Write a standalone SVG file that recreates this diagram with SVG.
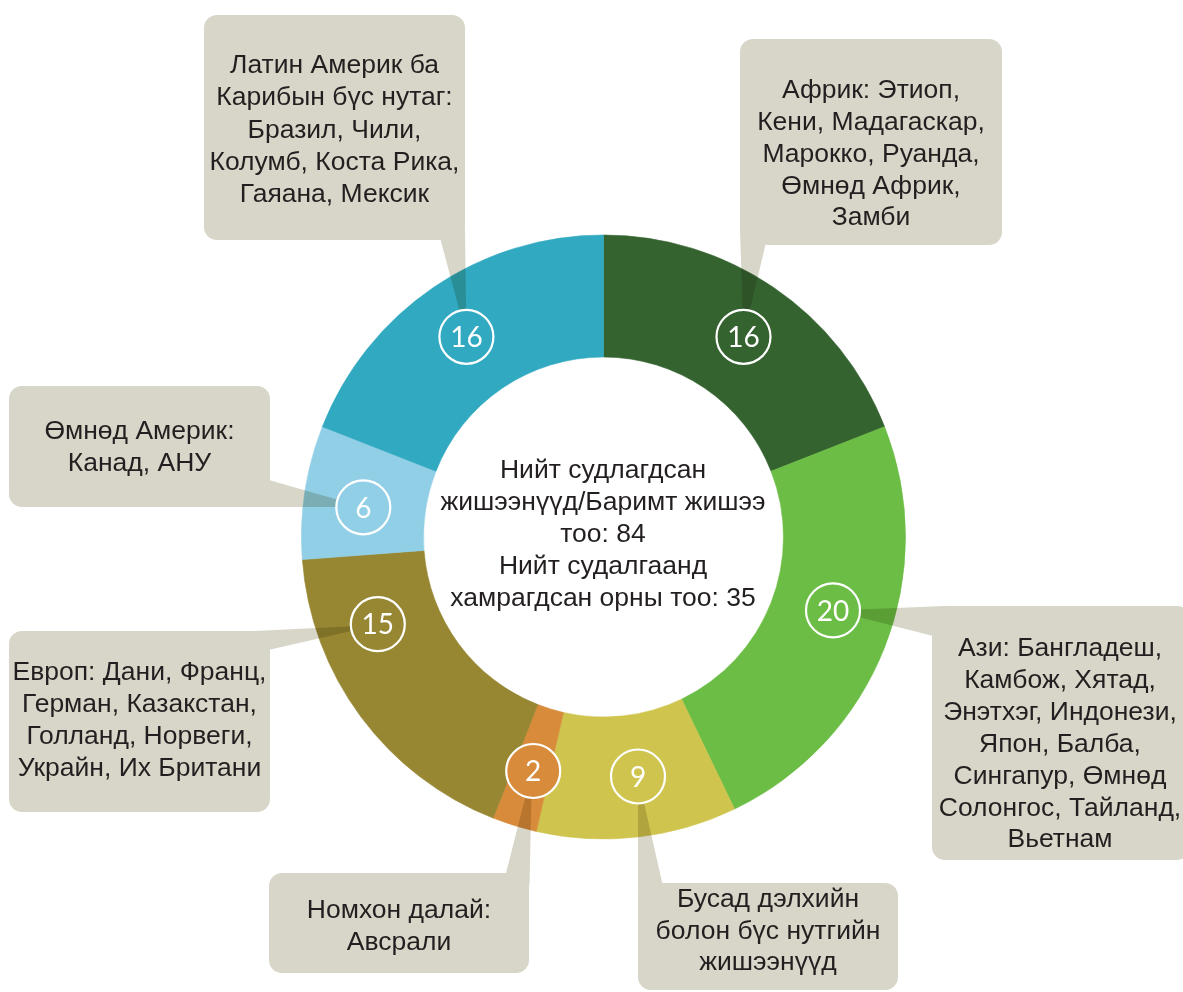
<svg xmlns="http://www.w3.org/2000/svg" width="1183" height="992" viewBox="0 0 1183 992">
<style>
.box{fill:#d8d6c8}
.tail{fill:#d8d6c8}
.lbl{font-family:"Liberation Sans",Arial,sans-serif;font-size:26.5px;fill:#231f20;text-anchor:middle}
.ctr{font-family:"Liberation Sans",Arial,sans-serif;font-size:26.5px;fill:#231f20;text-anchor:middle}
.badge{stroke:#ffffff;stroke-width:2.2}
.num{font-family:Lato,"Open Sans",sans-serif;font-size:28px;fill:#ffffff;text-anchor:middle}
</style>
<rect width="1183" height="992" fill="#ffffff"/>
<g id="donut">
<path d="M603.5,235 A302,302 0 0 1 884.62,426.67 L771.06,471.24 A180,180 0 0 0 603.5,357 Z" fill="#356330" stroke="#356330" stroke-width="0.6"/>
<path d="M884.62,426.67 A302,302 0 0 1 734.53,809.09 L681.60,699.17 A180,180 0 0 0 771.06,471.24 Z" fill="#6bbd45" stroke="#6bbd45" stroke-width="0.6"/>
<path d="M734.53,809.09 A302,302 0 0 1 536.30,831.43 L563.45,712.49 A180,180 0 0 0 681.60,699.17 Z" fill="#cfc44e" stroke="#cfc44e" stroke-width="0.6"/>
<path d="M536.30,831.43 A302,302 0 0 1 493.17,818.12 L537.74,704.56 A180,180 0 0 0 563.45,712.49 Z" fill="#d88b3a" stroke="#d88b3a" stroke-width="0.6"/>
<path d="M493.17,818.12 A302,302 0 0 1 302.34,559.57 L424.00,550.45 A180,180 0 0 0 537.74,704.56 Z" fill="#978732" stroke="#978732" stroke-width="0.6"/>
<path d="M302.34,559.57 A302,302 0 0 1 322.38,426.67 L435.94,471.24 A180,180 0 0 0 424.00,550.45 Z" fill="#91cfe6" stroke="#91cfe6" stroke-width="0.6"/>
<path d="M322.38,426.67 A302,302 0 0 1 603.5,235 L603.5,357 A180,180 0 0 0 435.94,471.24 Z" fill="#31a9c1" stroke="#31a9c1" stroke-width="0.6"/>
</g>
<g id="center-text">
<text class="ctr" x="603" y="478">Нийт судлагдсан</text>
<text class="ctr" x="603" y="510">жишээнүүд/Баримт жишээ</text>
<text class="ctr" x="603" y="542">тоо: 84</text>
<text class="ctr" x="603" y="574">Нийт судалгаанд</text>
<text class="ctr" x="603" y="606">хамрагдсан орны тоо: 35</text>
</g>
<g id="connectors" style="mix-blend-mode:multiply">
<polygon class="tail" points="438,230 465,230 466.4,336.8"/>
<polygon class="tail" points="740,230 769,230 743.5,336.8"/>
<polygon class="tail" points="255,476 363,507 255,507"/>
<polygon class="tail" points="255,631 378,625 255,653"/>
<polygon class="tail" points="945,606 833,610.4 945,639"/>
<polygon class="tail" points="503,885 532,771 529.5,885"/>
<polygon class="tail" points="638,895 638,776.5 665,895"/>
</g>
<g id="latin-america">
<rect class="box" x="204" y="15" width="261" height="225" rx="13"/>
<text class="lbl" x="334.5" y="73">Латин Америк ба</text>
<text class="lbl" x="334.5" y="105">Карибын бүс нутаг:</text>
<text class="lbl" x="334.5" y="137.5">Бразил, Чили,</text>
<text class="lbl" x="334.5" y="170">Колумб, Коста Рика,</text>
<text class="lbl" x="334.5" y="202">Гаяана, Мексик</text>
<circle class="badge" cx="466.4" cy="336.8" r="27" fill="#31a9c1"/>
<text class="num" x="466.4" y="347">16</text>
</g>
<g id="africa">
<rect class="box" x="740" y="39" width="262" height="206" rx="13"/>
<text class="lbl" x="871" y="98">Африк: Этиоп,</text>
<text class="lbl" x="871" y="130">Кени, Мадагаскар,</text>
<text class="lbl" x="871" y="162">Марокко, Руанда,</text>
<text class="lbl" x="871" y="193.5">Өмнөд Африк,</text>
<text class="lbl" x="871" y="225">Замби</text>
<circle class="badge" cx="743.5" cy="336.8" r="27" fill="#356330"/>
<text class="num" x="743.5" y="347">16</text>
</g>
<g id="north-america">
<rect class="box" x="9" y="386" width="261" height="121" rx="13"/>
<text class="lbl" x="139.5" y="438.5">Өмнөд Америк:</text>
<text class="lbl" x="139.5" y="471">Канад, АНУ</text>
<circle class="badge" cx="363.3" cy="507.3" r="27" fill="#91cfe6"/>
<text class="num" x="363.3" y="517.5">6</text>
</g>
<g id="europe">
<rect class="box" x="9" y="631" width="261" height="181" rx="13"/>
<text class="lbl" x="139.5" y="680">Европ: Дани, Франц,</text>
<text class="lbl" x="139.5" y="712">Герман, Казакстан,</text>
<text class="lbl" x="139.5" y="744">Голланд, Норвеги,</text>
<text class="lbl" x="139.5" y="776">Украйн, Их Британи</text>
<circle class="badge" cx="377.8" cy="624.2" r="27" fill="#978732"/>
<text class="num" x="377.8" y="634.4">15</text>
</g>
<g id="asia">
<rect class="box" x="932" y="606" width="258" height="254" rx="13"/>
<text class="lbl" x="1060" y="656">Ази: Бангладеш,</text>
<text class="lbl" x="1060" y="688">Камбож, Хятад,</text>
<text class="lbl" x="1060" y="720">Энэтхэг, Индонези,</text>
<text class="lbl" x="1060" y="752">Япон, Балба,</text>
<text class="lbl" x="1060" y="784">Сингапур, Өмнөд</text>
<text class="lbl" x="1060" y="815.5">Солонгос, Тайланд,</text>
<text class="lbl" x="1060" y="847">Вьетнам</text>
<circle class="badge" cx="833" cy="610.4" r="27" fill="#6bbd45"/>
<text class="num" x="833" y="620.6">20</text>
</g>
<g id="oceania">
<rect class="box" x="269" y="873" width="260" height="100" rx="13"/>
<text class="lbl" x="399" y="918">Номхон далай:</text>
<text class="lbl" x="399" y="950">Авсрали</text>
<circle class="badge" cx="533.2" cy="771" r="27" fill="#d88b3a"/>
<text class="num" x="533.2" y="781.2">2</text>
</g>
<g id="other">
<rect class="box" x="638" y="883" width="260" height="107" rx="13"/>
<text class="lbl" x="768" y="907">Бусад дэлхийн</text>
<text class="lbl" x="768" y="938.5">болон бүс нутгийн</text>
<text class="lbl" x="768" y="970">жишээнүүд</text>
<circle class="badge" cx="638" cy="776.5" r="27" fill="#cfc44e"/>
<text class="num" x="638" y="786.7">9</text>
</g>
</svg>
